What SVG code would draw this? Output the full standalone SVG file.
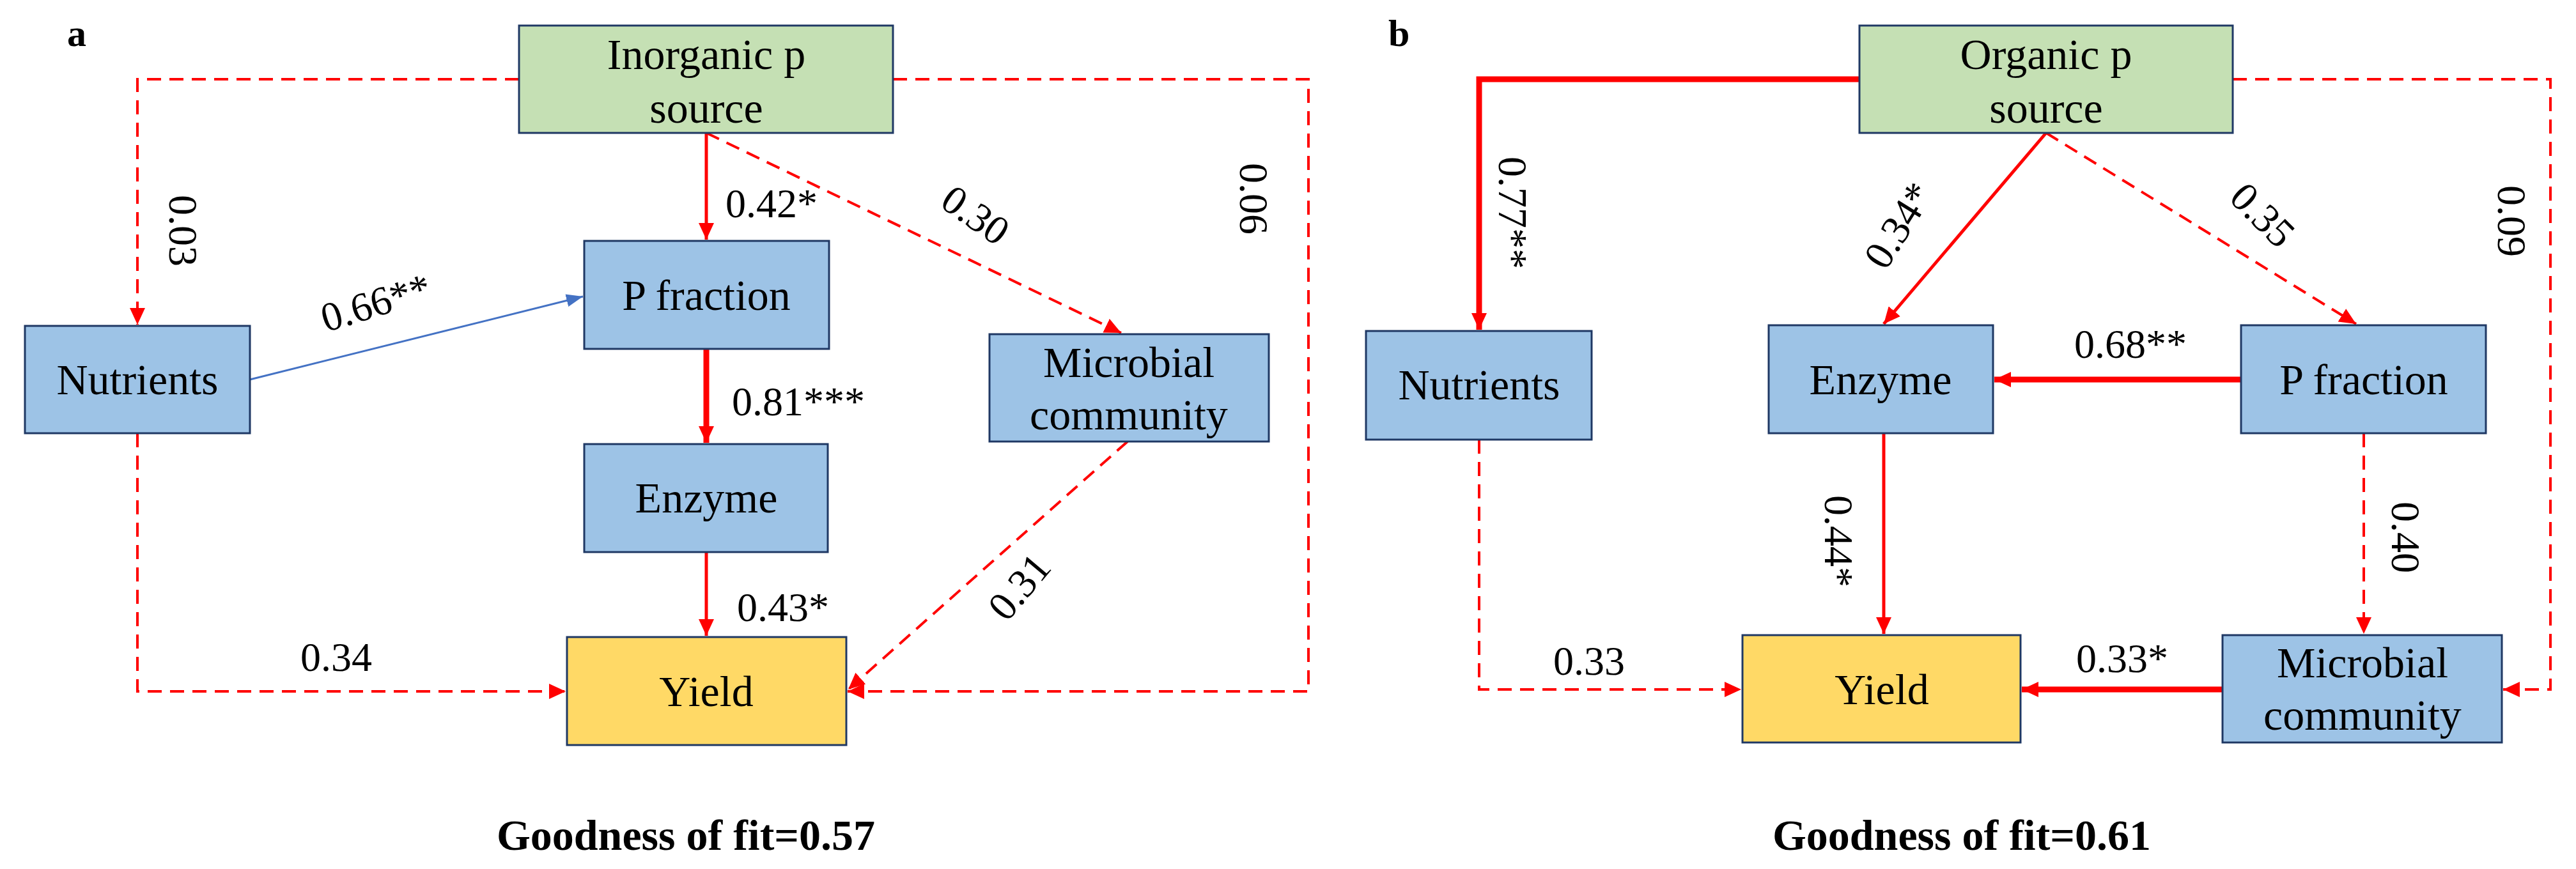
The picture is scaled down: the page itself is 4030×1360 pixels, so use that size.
<svg xmlns="http://www.w3.org/2000/svg" width="4030" height="1360" viewBox="0 0 4030 1360">
<style>
.box{stroke:#1F3864;stroke-width:3}
.b{fill:#9DC3E6}.g{fill:#C5E0B4}.y{fill:#FFD966}
text{font-family:"Liberation Serif","Times New Roman",serif;fill:#000}
.nt{font-size:68px;text-anchor:middle}
.lb{font-size:64px}
.tt{font-size:68px;font-weight:bold;text-anchor:middle}
.s{fill:none;stroke:#FF0000;stroke-width:5}
.k{fill:none;stroke:#FF0000;stroke-width:9}
.d{fill:none;stroke:#FF0000;stroke-width:4;stroke-dasharray:22 13}
.bl{fill:none;stroke:#4472C4;stroke-width:3}
</style>
<defs>
<marker id="ar" markerUnits="userSpaceOnUse" markerWidth="30" markerHeight="24" refX="26" refY="12" orient="auto"><path d="M0,0 L26,12 L0,24 Z" fill="#FF0000"/></marker>
<marker id="ab" markerUnits="userSpaceOnUse" markerWidth="30" markerHeight="24" refX="26" refY="12" orient="auto"><path d="M0,2 L26,12 L0,22 Z" fill="#4472C4"/></marker>
</defs>
<g id="connectors">
<!-- panel a -->
<path class="d" d="M812,124 H215 V508" marker-end="url(#ar)"/>
<path class="d" d="M1397,124 H2047 V1082 H1326" marker-end="url(#ar)"/>
<path class="s" d="M1105,208 V375" marker-end="url(#ar)"/>
<path class="d" d="M1105,208 L1754,521" marker-end="url(#ar)"/>
<path class="bl" d="M391,594 L912,464" marker-end="url(#ab)"/>
<path class="k" d="M1105,546 V693" marker-end="url(#ar)"/>
<path class="s" d="M1105,864 V995" marker-end="url(#ar)"/>
<path class="d" d="M1764,691 L1327,1079" marker-end="url(#ar)"/>
<path class="d" d="M215,678 V1082 H885" marker-end="url(#ar)"/>
<!-- panel b -->
<path class="k" d="M2909,124 H2314 V516" marker-end="url(#ar)"/>
<path class="d" d="M3493,124 H3990 V1079 H3916" marker-end="url(#ar)"/>
<path class="s" d="M3201,208 L2947,507" marker-end="url(#ar)"/>
<path class="d" d="M3201,208 L3686,507" marker-end="url(#ar)"/>
<path class="k" d="M3506,594 H3120" marker-end="url(#ar)"/>
<path class="s" d="M2947,678 V992" marker-end="url(#ar)"/>
<path class="d" d="M3698,678 V992" marker-end="url(#ar)"/>
<path class="k" d="M3477,1079 H3163" marker-end="url(#ar)"/>
<path class="d" d="M2314,688 V1079 H2724" marker-end="url(#ar)"/>
</g>
<g id="labels">
<text class="lb" transform="translate(265,305) rotate(90)">0.03</text>
<text class="lb" transform="translate(1940,255) rotate(90)">0.06</text>
<text class="lb" x="1135" y="340">0.42*</text>
<text class="lb" transform="translate(1468,322) rotate(35)">0.30</text>
<text class="lb" transform="translate(510,520) rotate(-17)">0.66**</text>
<text class="lb" x="1145" y="650">0.81***</text>
<text class="lb" x="1153" y="972">0.43*</text>
<text class="lb" transform="translate(1575,975) rotate(-50)">0.31</text>
<text class="lb" x="470" y="1050">0.34</text>
<text class="lb" transform="translate(2345,245) rotate(90)">0.77**</text>
<text class="lb" transform="translate(3908,290) rotate(90)">0.09</text>
<text class="lb" transform="translate(2950,425) rotate(-58)">0.34*</text>
<text class="lb" transform="translate(3485,312) rotate(45)">0.35</text>
<text class="lb" x="3245" y="560">0.68**</text>
<text class="lb" transform="translate(2855,775) rotate(90)">0.44*</text>
<text class="lb" transform="translate(3742,785) rotate(90)">0.40</text>
<text class="lb" x="3248" y="1052">0.33*</text>
<text class="lb" x="2430" y="1056">0.33</text>
</g>
<g id="panel-a-title"><text x="105" y="72" style="font-size:60px;font-weight:bold">a</text><text class="tt" x="1073" y="1330">Goodness of fit=0.57</text></g>
<g id="panel-b-title"><text x="2172" y="72" style="font-size:60px;font-weight:bold">b</text><text class="tt" x="3069" y="1330">Goodness of fit=0.61</text></g>
<g id="a-inorganic"><rect class="box g" x="812" y="40" width="585" height="168"/><text class="nt" x="1105" y="108">Inorganic p</text><text class="nt" x="1105" y="192">source</text></g>
<g id="a-nutrients"><rect class="box b" x="39" y="510" width="352" height="168"/><text class="nt" x="215" y="617">Nutrients</text></g>
<g id="a-pfraction"><rect class="box b" x="914" y="377" width="383" height="169"/><text class="nt" x="1105" y="485">P fraction</text></g>
<g id="a-microbial"><rect class="box b" x="1548" y="523" width="437" height="168"/><text class="nt" x="1766" y="590">Microbial</text><text class="nt" x="1766" y="672">community</text></g>
<g id="a-enzyme"><rect class="box b" x="914" y="695" width="381" height="169"/><text class="nt" x="1105" y="802">Enzyme</text></g>
<g id="a-yield"><rect class="box y" x="887" y="997" width="437" height="169"/><text class="nt" x="1105" y="1105">Yield</text></g>
<g id="b-organic"><rect class="box g" x="2909" y="40" width="584" height="168"/><text class="nt" x="3201" y="108">Organic p</text><text class="nt" x="3201" y="192">source</text></g>
<g id="b-nutrients"><rect class="box b" x="2137" y="518" width="353" height="170"/><text class="nt" x="2314" y="625">Nutrients</text></g>
<g id="b-enzyme"><rect class="box b" x="2767" y="509" width="351" height="169"/><text class="nt" x="2942" y="617">Enzyme</text></g>
<g id="b-pfraction"><rect class="box b" x="3506" y="509" width="383" height="169"/><text class="nt" x="3698" y="617">P fraction</text></g>
<g id="b-yield"><rect class="box y" x="2726" y="994" width="435" height="168"/><text class="nt" x="2944" y="1102">Yield</text></g>
<g id="b-microbial"><rect class="box b" x="3477" y="994" width="437" height="168"/><text class="nt" x="3696" y="1060">Microbial</text><text class="nt" x="3696" y="1142">community</text></g>
</svg>
